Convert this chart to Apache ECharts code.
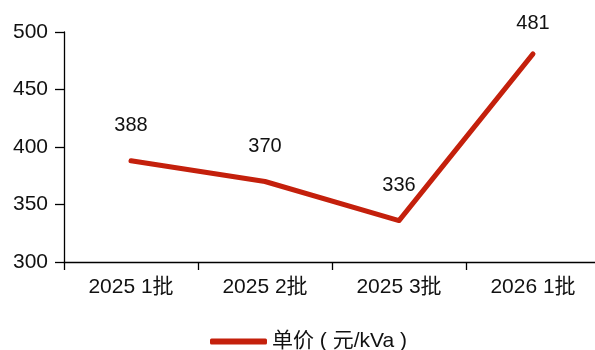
<!DOCTYPE html>
<html>
<head>
<meta charset="utf-8">
<script src="https://cdn.jsdelivr.net/npm/echarts@6/dist/echarts.min.js"></script>
<style>
  html, body { margin: 0; padding: 0; background: #fff; overflow: hidden; }
  #wrap { width: 595px; height: 350px; overflow: hidden; }
  /* plot area runs a few pixels past the right edge of the view */
  #chart { width: 606px; height: 350px; }
</style>
</head>
<body>
<div id="wrap"><div id="chart"></div></div>
<script>
// 批次与单价
var categories = ['2025 1批', '2025 2批', '2025 3批', '2026 1批'];
var unitPrice = [388, 370, 336, 481];
var seriesName = '单价 ( 元/kVa )';
var yTicks = { min: 300, max: 500, interval: 50 };

var FONT = '"Liberation Sans", Arial, "Noto Sans CJK SC", sans-serif';
var RED = '#C4200C';

var chart = echarts.init(document.getElementById('chart'), null, { renderer: 'canvas' });

chart.setOption({
  animation: false,
  backgroundColor: '#ffffff',
  grid: { left: 64, width: 536, top: 32, height: 230, containLabel: false },
  legend: {
    top: 326,
    left: 205,
    itemWidth: 57,
    itemHeight: 6,
    itemGap: 7,
    icon: 'roundRect',
    textStyle: { fontFamily: FONT, fontSize: 21, color: '#111' },
    data: [{ name: seriesName, icon: 'roundRect' }]
  },
  xAxis: {
    type: 'category',
    data: categories,
    boundaryGap: true,
    axisLine: { lineStyle: { color: '#000', width: 1.3 } },
    axisTick: { show: true, length: 8, lineStyle: { color: '#000', width: 1.3 } },
    axisLabel: { fontFamily: FONT, fontSize: 21, color: '#111', margin: 15 },
    splitLine: { show: false }
  },
  yAxis: {
    type: 'value',
    min: yTicks.min,
    max: yTicks.max,
    interval: yTicks.interval,
    axisLine: { show: true, lineStyle: { color: '#000', width: 1.3 } },
    axisTick: { show: true, length: 9, lineStyle: { color: '#000', width: 1.3 } },
    axisLabel: { fontFamily: FONT, fontSize: 21, color: '#111', margin: 16 },
    splitLine: { show: false }
  },
  series: [{
    name: seriesName,
    type: 'line',
    data: unitPrice.map(function (v, i) {
      return i === unitPrice.length - 1
        ? { value: v, label: { distance: 19 } }
        : v;
    }),
    showSymbol: true,
    symbol: 'circle',
    symbolSize: 2,
    lineStyle: { color: RED, width: 5, cap: 'round', join: 'round' },
    itemStyle: { color: RED },
    label: {
      show: true,
      position: 'top',
      distance: 24,
      fontFamily: FONT,
      fontSize: 20,
      color: '#111'
    }
  }]
});
</script>
</body>
</html>
